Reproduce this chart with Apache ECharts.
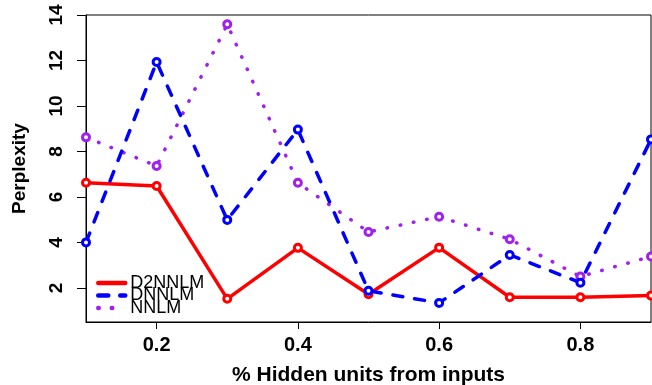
<!DOCTYPE html>
<html>
<head>
<meta charset="utf-8">
<script src="https://cdn.jsdelivr.net/npm/echarts@6/dist/echarts.min.js"></script>
<style>
html,body{margin:0;padding:0;background:#fff;}
#chart{width:652px;height:385px;}
</style>
</head>
<body>
<div id="chart"></div>
<script>
const xValues = [0.1, 0.2, 0.3, 0.4, 0.5, 0.6, 0.7, 0.8, 0.9];
const d2nnlm = [6.62, 6.48, 1.52, 3.76, 1.72, 3.77, 1.59, 1.59, 1.66];
const dnnlm  = [4.00, 11.93, 4.99, 8.96, 1.87, 1.34, 3.45, 2.23, 8.53];
const nnlm   = [8.62, 7.36, 13.59, 6.62, 4.46, 5.13, 4.14, 2.50, 3.38];
const xTicks = [0.2, 0.4, 0.6, 0.8];
const yTicks = [2, 4, 6, 8, 10, 12, 14];
const seriesNames = ['D2NNLM', 'DNNLM', 'NNLM'];

const pairs = ys => xValues.map((x, i) => [x, ys[i]]);
const FONT = '"Liberation Sans", Arial, Helvetica, sans-serif';

const chart = echarts.init(document.getElementById('chart'), null, {renderer: 'canvas'});

function mk(name, ys, color, dash) {
  return {
    name: name,
    type: 'line',
    data: pairs(ys),
    symbol: 'circle',
    symbolSize: 7,
    clip: true,
    itemStyle: {color: '#fff', borderColor: color, borderWidth: 3},
    lineStyle: {color: color, width: 3.5, type: dash, cap: 'round'},
    emphasis: {disabled: true},
    animation: false
  };
}

chart.setOption({
  animation: false,
  grid: {left: 86, right: 1, top: 15, bottom: 63, show: true, borderColor: '#000', borderWidth: 1,
    containLabel: false, outerBoundsMode: 'none'},
  xAxis: {
    type: 'value', min: 0.1, max: 0.9,
    name: '% Hidden units from inputs', nameLocation: 'middle', nameGap: 43,
    nameTextStyle: {fontFamily: FONT, fontWeight: 'bold', fontSize: 21, color: '#000'},
    axisLine: {show: true, lineStyle: {color: '#000', width: 1}},
    axisTick: {show: true, length: 7, customValues: xTicks, lineStyle: {color: '#000'}},
    axisLabel: {show: true, customValues: xTicks, margin: 13, fontFamily: FONT, fontWeight: 'bold', fontSize: 20, color: '#000',
      formatter: v => v.toFixed(1)},
    splitLine: {show: false}
  },
  yAxis: {
    type: 'value', min: 0.5, max: 14,
    name: 'Perplexity', nameLocation: 'middle', nameGap: 57, nameRotate: 90,
    nameTextStyle: {fontFamily: FONT, fontWeight: 'bold', fontSize: 19, color: '#000'},
    axisLine: {show: true, lineStyle: {color: '#000', width: 1}},
    axisTick: {show: true, length: 9, customValues: yTicks, lineStyle: {color: '#000'}},
    axisLabel: {show: true, customValues: yTicks, rotate: 90, margin: 20, fontFamily: FONT, fontWeight: 'bold', fontSize: 19, color: '#000'},
    splitLine: {show: false}
  },
  legend: {
    orient: 'vertical', left: 96, top: 274, padding: 0,
    data: seriesNames,
    itemWidth: 27, itemHeight: 12, itemGap: -5.5,
    itemStyle: {opacity: 0},
    lineStyle: {width: 4.5},
    textStyle: {fontFamily: FONT, fontSize: 18, color: '#000'},
    selectedMode: false
  },
  series: [
    mk('D2NNLM', d2nnlm, '#FF0000', 'solid'),
    mk('NNLM', nnlm, '#A020F0', [0.5, 13]),
    mk('DNNLM', dnnlm, '#0000FF', [10, 12])
  ]
});
</script>
</body>
</html>
